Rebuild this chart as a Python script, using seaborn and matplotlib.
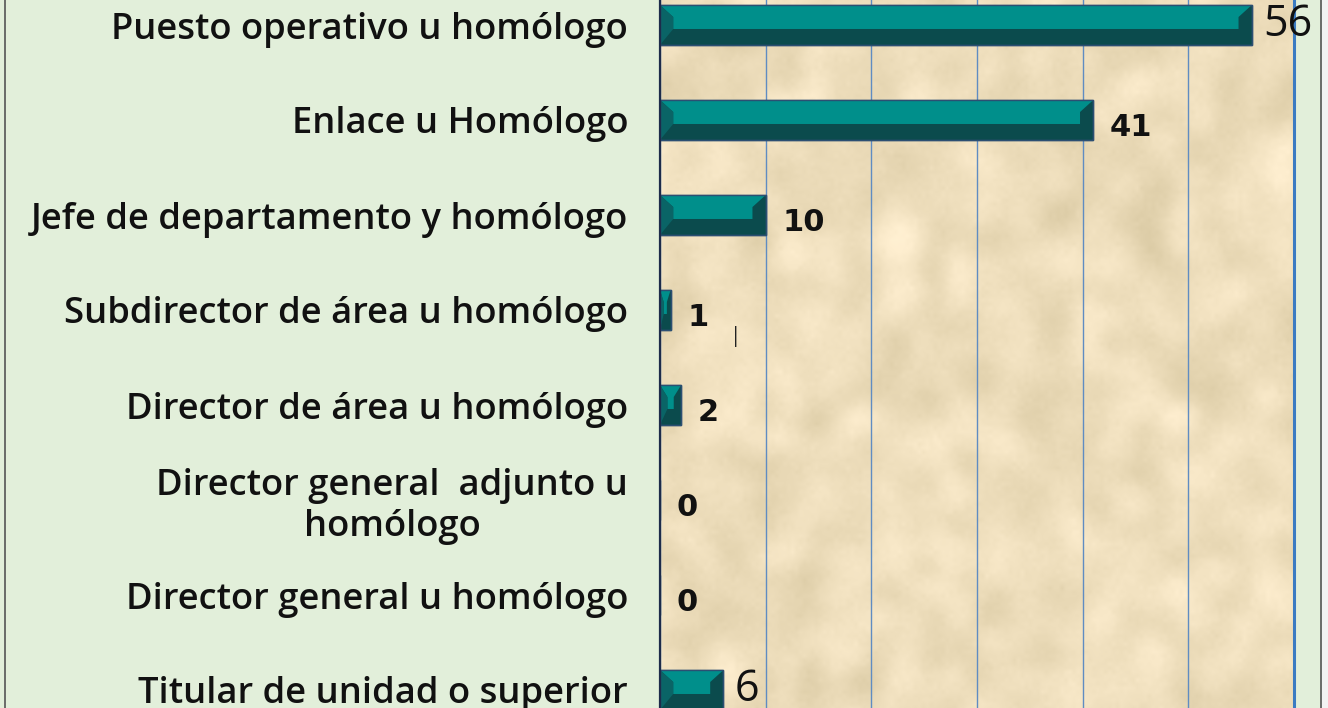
import numpy as np
import pandas as pd
import matplotlib
matplotlib.use("Agg")
import matplotlib.pyplot as plt
import seaborn as sns
from matplotlib.patches import Rectangle, Polygon

categories = [
    "Puesto operativo u homólogo",
    "Enlace u Homólogo",
    "Jefe de departamento y homólogo",
    "Subdirector de área u homólogo",
    "Director de área u homólogo",
    "Director general  adjunto u\nhomólogo",
    "Director general u homólogo",
    "Titular de unidad o superior",
]
values = [56, 41, 10, 1, 2, 0, 0, 6]
x_ticks = [0, 10, 20, 30, 40, 50, 60]

df = pd.DataFrame({"cat": categories, "val": values})

sns.set_theme(style="white")
plt.rcParams["font.family"] = ["Open Sans", "DejaVu Sans"]

GREEN = "#e2efda"
LIGHT = "#008f8b"
DARK = "#0b4b4d"
EDGE = "#2c4f72"

W, H, DPI = 1328, 708, 100
fig = plt.figure(figsize=(W / DPI, H / DPI), dpi=DPI, facecolor=GREEN)

fig.patches.append(Rectangle((5 / W, -0.01), (1321 - 5) / W, 1.02, transform=fig.transFigure,
                             facecolor="none", edgecolor="#555555", lw=1.2, zorder=0))
fig.patches.append(Rectangle((1322 / W, 0), 6 / W, 1, transform=fig.transFigure,
                             facecolor="#f2f2f2", edgecolor="none", zorder=0))

ax_left, ax_right = 660 / W, 1294 / W
ax_top_px, ax_bot_px = -22.5, 737.5
ax = fig.add_axes([ax_left, (H - ax_bot_px) / H, ax_right - ax_left, (ax_bot_px - ax_top_px) / H])

# parchment texture (decorative background)
rng = np.random.default_rng(3)
ny, nx = 190, 160
noise = rng.normal(size=(ny, nx))
from numpy.fft import fft2, ifft2
ky = np.fft.fftfreq(ny)[:, None]
kx = np.fft.fftfreq(nx)[None, :]
filt = np.exp(-(kx ** 2 + ky ** 2) / (2 * 0.05 ** 2))
smooth = np.real(ifft2(fft2(noise) * filt))
smooth = (smooth - smooth.mean()) / smooth.std()
fine = rng.normal(size=(ny, nx)) * 0.25
field = smooth + fine
base = np.array([238, 222, 188]) / 255.0
tex = np.clip(base[None, None, :] + 0.02 * field[:, :, None] * np.array([1.0, 1.0, 1.2])[None, None, :], 0, 1)
ax.imshow(tex, extent=(0, 1, 0, 1), transform=ax.transAxes, aspect="auto", zorder=0, interpolation="bilinear")

sns.barplot(data=df, y="cat", x="val", orient="h", color=DARK, width=0.42,
            edgecolor=EDGE, linewidth=1.0, ax=ax, zorder=3, saturation=1)

# bevel highlight derived from the same values
ypos = np.arange(len(values))
bh = 0.42
for y, v in zip(ypos, values):
    if v <= 0:
        continue
    bev = min(1.25, v * 0.35)
    top = y - bh / 2
    ax.add_patch(Polygon([(0, top), (v, top), (v - bev, top + bh * 0.3), (v - bev, top + bh * 0.6),
                          (bev, top + bh * 0.6), (bev, top + bh * 0.3)],
                         closed=True, facecolor=LIGHT, edgecolor="none", zorder=4))
    ax.add_patch(Polygon([(0, top), (bev, top + bh * 0.3), (bev, top + bh * 0.6), (0, top + bh)],
                         closed=True, facecolor="#0a6466", edgecolor="none", zorder=4))
    ax.add_patch(Rectangle((0, top), v, bh, facecolor="none", edgecolor=EDGE, lw=1.0, zorder=5))

ax.set_xlim(0, 60)
ax.set_ylim(len(values) - 0.5, -0.5)
ax.set_xticks(x_ticks)
ax.set_xticklabels([])
ax.tick_params(axis="x", length=0)
ax.grid(axis="x", color="#5f8cc2", lw=1.0, zorder=1)
ax.grid(axis="y", visible=False)
for gl in ax.get_xgridlines():
    gl.set_zorder(1)

ax.set_yticks(np.arange(len(values) - 1) + 0.5)
ax.set_yticklabels([])
ax.tick_params(axis="y", which="major", length=12, width=1.0, color="#333333", direction="out")
ax.set_yticks(ypos, minor=True)
ax.set_yticklabels(categories, minor=True, fontsize=26.2, fontweight="semibold", color="#111111",
                   multialignment="center", linespacing=1.15)
ax.tick_params(axis="y", which="minor", length=0, pad=23)
ax.set_xlabel("")
ax.set_ylabel("")

for s in ["top", "bottom"]:
    ax.spines[s].set_visible(False)
ax.spines["left"].set_color("#1d2b4a")
ax.spines["left"].set_linewidth(1.6)
ax.spines["left"].set_zorder(6)
ax.spines["right"].set_color("#3b7bc2")
ax.spines["right"].set_linewidth(2.2)

for y, v in zip(ypos, values):
    if v in (56, 6):
        ax.annotate(str(v), (v, y), xytext=(8, 0), textcoords="offset points", va="center",
                    ha="left", fontsize=31, color="#111111", zorder=7, annotation_clip=False)
    else:
        ax.annotate(str(v), (v, y), xytext=(12, -5.5), textcoords="offset points", va="center",
                    ha="left", fontsize=22, fontweight="bold", color="#111111", zorder=7,
                    annotation_clip=False, family=["DejaVu Sans"])

ax.text(7.2, 3.28, "|", fontsize=15, color="#222222", ha="center", va="center", zorder=7)

fig.savefig("out.png", dpi=DPI, facecolor=fig.get_facecolor())
